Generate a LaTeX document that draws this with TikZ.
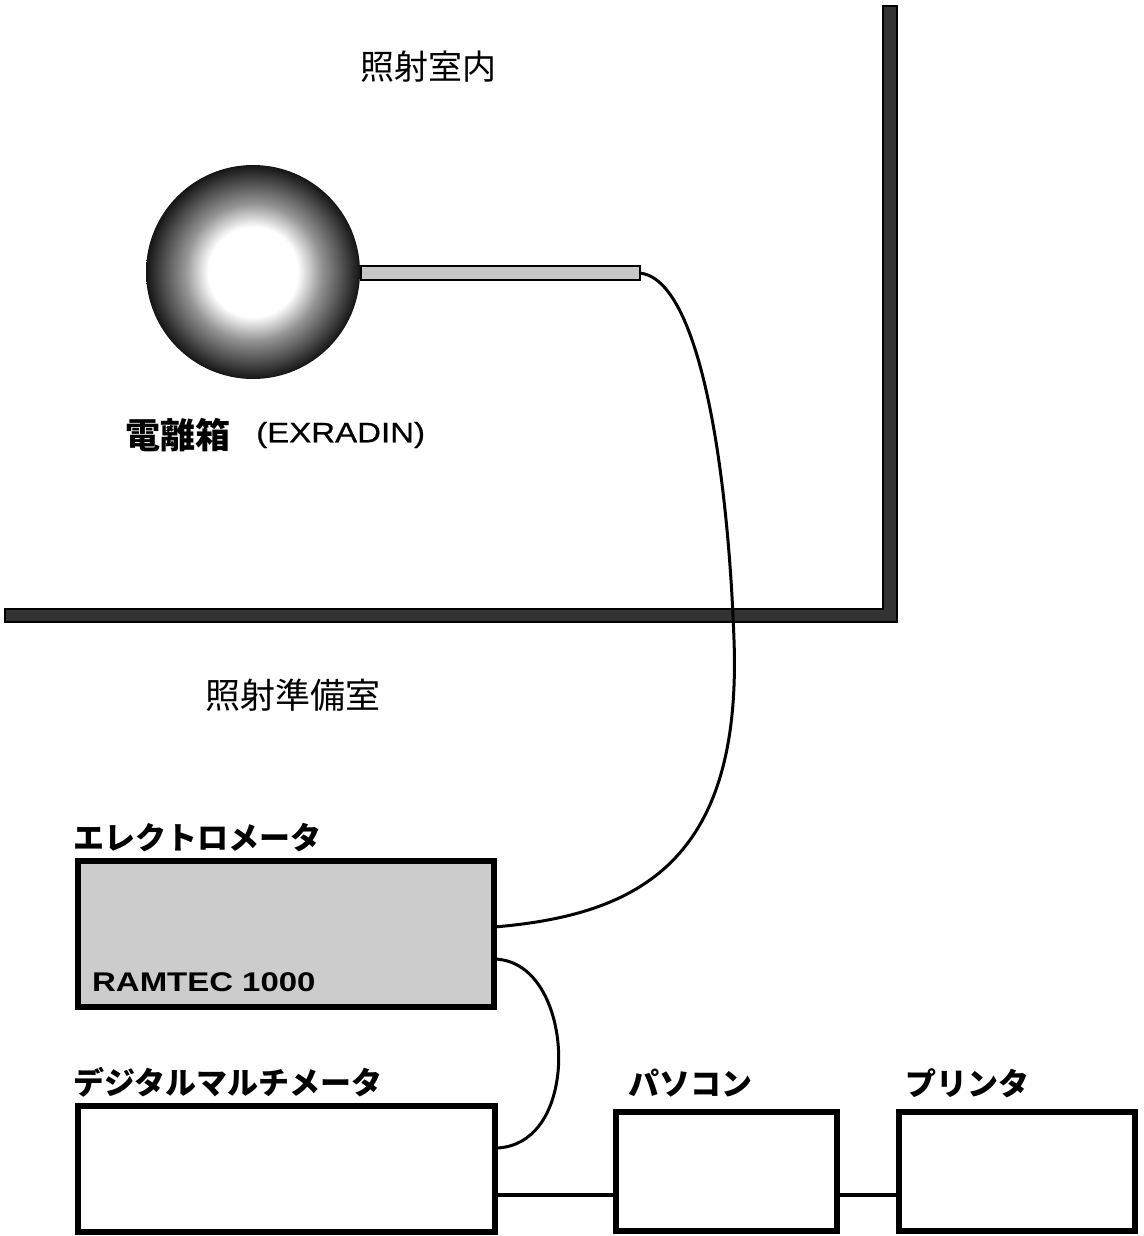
\documentclass[tikz,border=0pt]{standalone}
\usepackage{fontspec}
\setmainfont{Liberation Sans}
\newfontfamily\cjk{Noto Sans CJK JP}
\newfontfamily\wide[FakeStretch=1.18,FakeBold=0.6]{Liberation Sans}
\newfontfamily\widebold[FakeStretch=1.22]{Liberation Sans Bold}
\pgfdeclareradialshading{sphereshade}{\pgfpoint{0bp}{0bp}}{color(0bp)=(white); color(10.5bp)=(white); color(16bp)=(black!42); color(21.5bp)=(black!72); color(25bp)=(black!92); color(50bp)=(black!92)}
\begin{document}
\begin{tikzpicture}[x=1pt,y=-1pt,
  box/.style={draw, line width=6pt, inner sep=0pt, outer sep=0pt},
  cable/.style={line width=3pt},
  link/.style={line width=4pt},
  jreg/.style={font=\cjk\fontsize{35}{35}\selectfont, anchor=west, inner sep=0pt},
  jbold/.style={font=\cjk\fontsize{31}{31}\selectfont\bfseries, anchor=west, inner sep=0pt}]
\useasboundingbox (0,0) rectangle (1143,1236);
% walls
\fill[black!80, draw=black, line width=1.5pt] (5,609) -- (883,609) -- (883,6) -- (897,6) -- (897,622) -- (5,622) -- cycle;
% chamber
\node[draw, line width=2.5pt, fill=black!22, minimum width=279pt, minimum height=14pt, inner sep=0pt, outer sep=0pt] (stem) at (500.5,273) {};
\node[circle, minimum size=214pt, inner sep=0pt, outer sep=0pt, shading=sphereshade] (chamber) at (253,272) {};
% boxes
\node[box, fill=black!20, minimum width=416pt, minimum height=146pt] (em) at (286,934) {};
\node[box, fill=white, minimum width=417pt, minimum height=126pt] (dmm) at (286.5,1169) {};
\node[box, fill=white, minimum width=221pt, minimum height=119pt] (pc) at (726.5,1171.5) {};
\node[box, fill=white, minimum width=236pt, minimum height=119pt] (prn) at (1017,1171.5) {};
% cables
\draw[cable] (stem.east) .. controls (700,280) and (728,470) .. (734,640) .. controls (742,860) and (640,915) .. ([yshift=7pt]em.east);
\draw[cable] ([yshift=-25pt]em.east) .. controls (545,960) and (565,1030) .. (557,1080) .. controls (550,1125) and (525,1148) .. ([yshift=21pt]dmm.east);
\draw[link] ([yshift=-26pt]dmm.east) -- ([yshift=-23.5pt]pc.west);
\draw[link] ([yshift=-23.5pt]pc.east) -- ([yshift=-23.5pt]prn.west);
% labels
\node[jreg, font=\cjk\fontsize{34}{34}\selectfont] (t1) at (360,67) {照射室内};
\node[jreg] (t2) at (205,695) {照射準備室};
\node[jreg, font=\cjk\fontsize{35}{35}\selectfont\bfseries] (t3) at (125,435) {電離箱};
\node[anchor=west, inner sep=0pt, font=\wide\fontsize{28}{28}\selectfont] (t4) at (256,435) {(EXRADIN)};
\node[jbold] (t5) at (73,838) {エレクトロメータ};
\node[anchor=west, inner sep=0pt, font=\widebold\fontsize{27}{27}\selectfont] (t6) at (92,982) {RAMTEC 1000};
\node[jbold] (t7) at (73,1082) {デジタルマルチメータ};
\node[jbold] (t8) at (628,1083) {パソコン};
\node[jbold] (t9) at (905,1083) {プリンタ};
\end{tikzpicture}
\end{document}
